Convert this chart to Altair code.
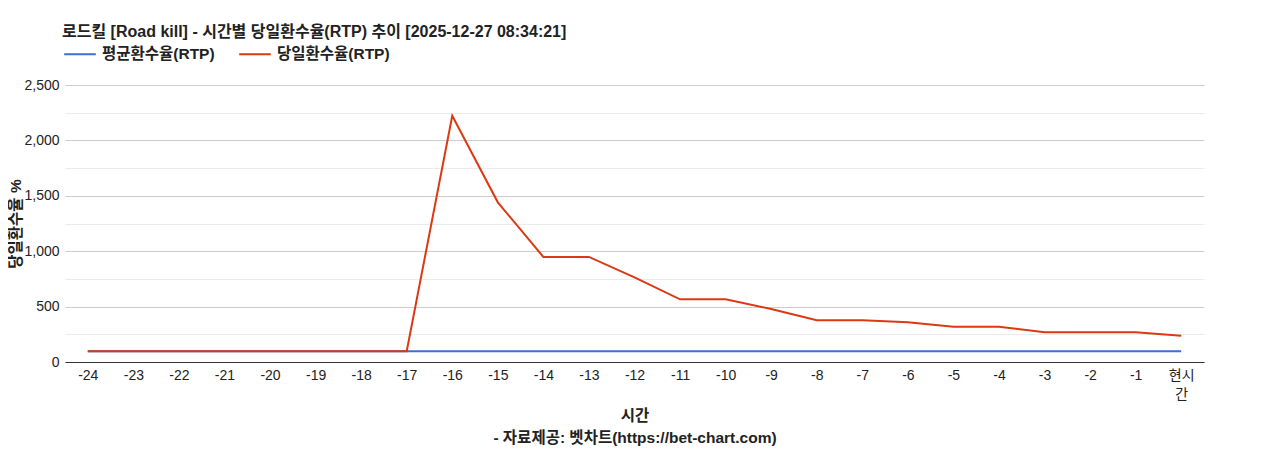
import altair as alt
import pandas as pd

hours = ["-24", "-23", "-22", "-21", "-20", "-19", "-18", "-17", "-16", "-15", "-14", "-13",
         "-12", "-11", "-10", "-9", "-8", "-7", "-6", "-5", "-4", "-3", "-2", "-1", "현시간"]
avg_rtp = [97] * 25
day_rtp = [97, 97, 97, 97, 97, 97, 97, 97, 2222, 1441, 948, 948,
           764, 566, 566, 478, 376, 376, 358, 319, 319, 268, 268, 268, 238]
series_names = ["평균환수율(RTP)", "당일환수율(RTP)"]
colors = ["#3b6fd9", "#dc3912"]

df = pd.DataFrame({"시간": hours, series_names[0]: avg_rtp, series_names[1]: day_rtp})
long = df.melt(id_vars="시간", var_name="series", value_name="rtp")
long["order"] = long["series"].map({series_names[0]: 0, series_names[1]: 1})

FONT = "Arial, Liberation Sans, Noto Sans CJK KR"

grid_vals = list(range(0, 2501, 250))

chart = alt.Chart(long).mark_line(strokeWidth=2).encode(
    x=alt.X("시간:N", sort=hours, scale=alt.Scale(type="point", padding=0.5),
            axis=alt.Axis(title=["시간", "- 자료제공: 벳차트(https://bet-chart.com)"],
                          titleFontWeight="bold", titleFontSize=15.5, titleLineHeight=22,
                          titlePadding=7, labelAngle=0, labelFontSize=14, labelColor="#222",
                          titleColor="#222",
                          labelExpr="datum.value == '현시간' ? ['현시', '간'] : datum.value",
                          labelLineHeight=19, labelPadding=6,
                          ticks=False, grid=False, domainColor="#333", domainWidth=1)),
    y=alt.Y("rtp:Q", scale=alt.Scale(domain=[0, 2500], nice=False),
            axis=alt.Axis(title="당일환수율 %", titleFontWeight="bold", titleFontSize=15.5,
                          titleColor="#222",
                          titlePadding=0, values=grid_vals, labelFontSize=14, labelColor="#222",
                          labelExpr="datum.value % 500 == 0 ? format(datum.value, ',') : ''",
                          ticks=False, domain=False, labelPadding=6,
                          gridColor={"condition": {"test": "datum.value % 500 == 0", "value": "#cccccc"},
                                     "value": "#ebebeb"})),
    color=alt.Color("series:N", sort=series_names,
                    scale=alt.Scale(domain=series_names, range=colors),
                    legend=alt.Legend(title=None, orient="none", legendX=-2, legendY=-48,
                                      direction="horizontal", symbolType="stroke",
                                      symbolStrokeWidth=2, symbolSize=1000, labelOffset=5,
                                      labelFontSize=15.5, labelFontWeight="bold", labelColor="#222",
                                      columnPadding=20)),
    order="order:Q",
).properties(
    width=1139, height=277,
    padding={"left": 0, "top": 16, "right": 5, "bottom": 0},
    title=alt.TitleParams("로드킬 [Road kill] - 시간별 당일환수율(RTP) 추이 [2025-12-27 08:34:21]",
                          anchor="start", frame="group", fontSize=16, fontWeight="bold",
                          color="#222", offset=-3, dx=-3),
).configure(font=FONT).configure_view(stroke=None)

chart.save("out.html", embed_options={"renderer": "svg", "actions": False})
